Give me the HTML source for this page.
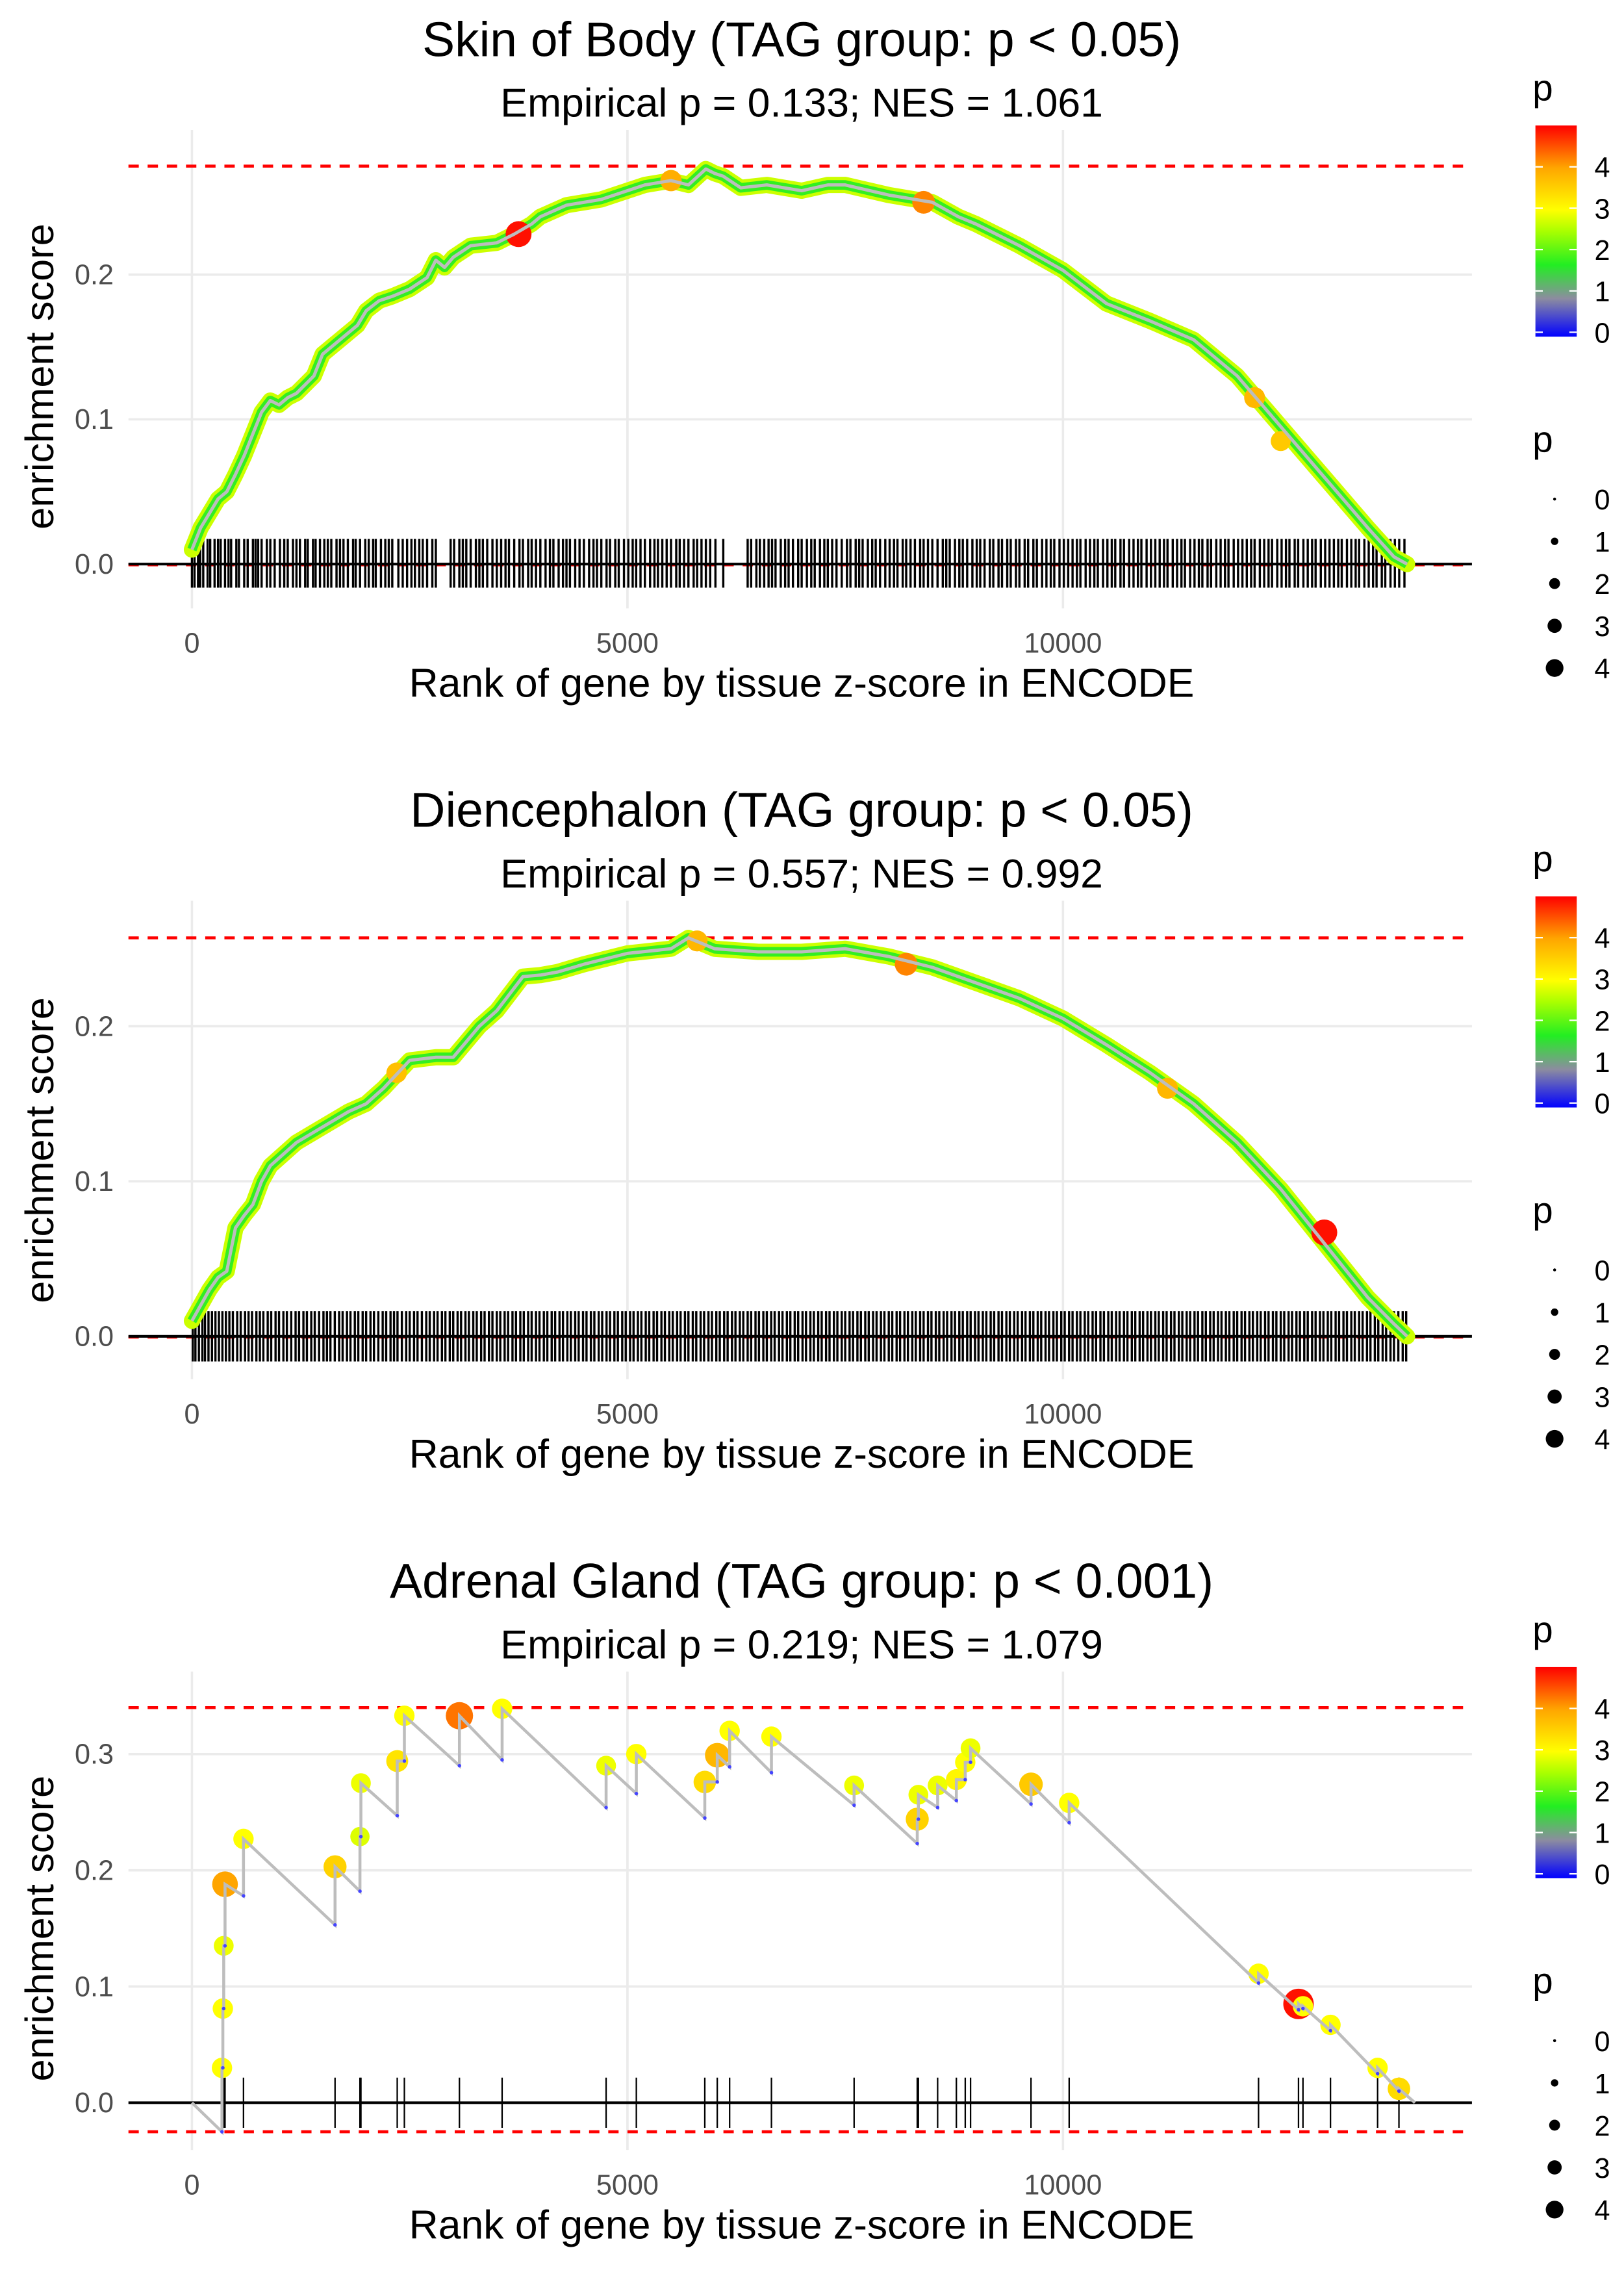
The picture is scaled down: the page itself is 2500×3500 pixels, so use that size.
<!DOCTYPE html>
<html><head><meta charset="utf-8"><style>
html,body{margin:0;padding:0;background:#fff;}
svg{display:block;}
text{font-family:"Liberation Sans",sans-serif;}
</style></head><body>
<svg id="chart" xmlns="http://www.w3.org/2000/svg" width="2500" height="3500" viewBox="0 0 1100 1540">
<defs>
<linearGradient id="pgrad" x1="0" y1="1" x2="0" y2="0">
<stop offset="0" stop-color="#0000ff"/><stop offset="0.18" stop-color="#8c8ca0"/><stop offset="0.34" stop-color="#22ee22"/><stop offset="0.5" stop-color="#aaff00"/><stop offset="0.6" stop-color="#ffff00"/><stop offset="0.8" stop-color="#ffa500"/><stop offset="1" stop-color="#ff0000"/>
</linearGradient>
</defs>
</svg>
<script>
// ---------- DATA ----------
const titles = ["Skin of Body (TAG group: p < 0.05)","Diencephalon (TAG group: p < 0.05)","Adrenal Gland (TAG group: p < 0.001)"];
const subtitles = ["Empirical p = 0.133; NES = 1.061","Empirical p = 0.557; NES = 0.992","Empirical p = 0.219; NES = 1.079"];
const xTicks = [0,5000,10000];
const yTicks1 = [0,0.1,0.2];
const yTicks2 = [0,0.1,0.2];
const yTicks3 = [0,0.1,0.2,0.3];
const yTickLabels1 = ["0.0","0.1","0.2"];
const yTickLabels2 = ["0.0","0.1","0.2"];
const yTickLabels3 = ["0.0","0.1","0.2","0.3"];
const legendTicks = [0,1,2,3,4];

const curve1Rank = [0,100,200,300,400,500,600,700,800,900,1000,1100,1200,1300,1400,1500,1700,1900,2000,2150,2300,2500,2700,2800,2900,3000,3200,3500,3700,3900,4000,4300,4500,4700,5000,5200,5500,5700,5900,6000,6100,6300,6600,7000,7300,7500,8000,8300,8500,8800,9000,9500,10000,10500,11000,11500,12000,12500,13000,13500,13800,13950];
const curve1ES = [0.01,0.025,0.035,0.045,0.05,0.062,0.075,0.09,0.105,0.113,0.11,0.115,0.118,0.124,0.13,0.145,0.155,0.165,0.175,0.182,0.185,0.19,0.198,0.21,0.205,0.212,0.22,0.222,0.228,0.235,0.24,0.248,0.25,0.252,0.258,0.262,0.265,0.262,0.273,0.27,0.268,0.26,0.262,0.258,0.262,0.262,0.255,0.252,0.25,0.24,0.235,0.22,0.203,0.18,0.168,0.155,0.13,0.095,0.06,0.025,0.005,0.0];
const hl1Rank = [3750,5500,8400,12200,12500];
const hl1ES = [0.228,0.265,0.25,0.115,0.085];
const hl1P = [4.9,3.9,4.2,3.8,3.6];

const curve2Rank = [0,100,200,300,400,500,600,700,800,900,1000,1200,1500,1800,2000,2200,2500,2800,3000,3300,3500,3800,4000,4200,4500,5000,5500,5700,6000,6500,7000,7500,8000,8500,9000,9500,10000,10500,11000,11500,12000,12500,13000,13500,13800,13950];
const curve2ES = [0.01,0.02,0.03,0.038,0.042,0.07,0.078,0.085,0.1,0.11,0.115,0.125,0.135,0.145,0.15,0.16,0.178,0.18,0.18,0.2,0.21,0.232,0.233,0.235,0.24,0.247,0.25,0.257,0.25,0.248,0.248,0.25,0.245,0.238,0.228,0.218,0.205,0.188,0.17,0.15,0.125,0.095,0.06,0.025,0.008,0.0];
const hl2Rank = [13000,8200,11200,2350,5800];
const hl2ES = [0.067,0.24,0.16,0.17,0.255];
const hl2P = [4.9,4.2,3.8,3.7,3.8];

const rug1 = [0,30,70,95,130,180,210,260,300,330,380,420,450,510,540,600,640,700,730,760,800,860,900,950,1010,1060,1100,1160,1200,1240,1300,1330,1390,1420,1470,1520,1560,1600,1660,1700,1740,1790,1850,1880,1930,1990,2030,2080,2110,2170,2220,2260,2300,2370,2420,2470,2520,2560,2610,2650,2700,2760,2800,2970,3010,3070,3110,3150,3200,3260,3300,3340,3390,3450,3500,3550,3600,3640,3700,3760,3800,3860,3900,3950,4000,4060,4110,4150,4210,4260,4300,4340,4400,4450,4500,4560,4610,4650,4700,4760,4800,4860,4900,4960,5010,5060,5100,5150,5200,5260,5310,5350,5400,5450,5500,5560,5600,5650,5700,5760,5800,5850,5900,5950,6010,6100,6380,6420,6480,6520,6570,6620,6660,6700,6760,6810,6850,6900,6960,7000,7060,7110,7150,7210,7260,7300,7350,7400,7460,7520,7560,7620,7660,7700,7760,7810,7850,7900,7960,8010,8060,8100,8160,8200,8250,8300,8360,8400,8450,8500,8560,8620,8660,8700,8760,8810,8850,8900,8960,9010,9050,9100,9160,9200,9260,9300,9360,9400,9460,9500,9560,9600,9660,9700,9760,9810,9860,9900,9960,10010,10060,10110,10160,10200,10260,10310,10360,10400,10460,10510,10560,10600,10660,10700,10760,10810,10860,10900,10960,11010,11060,11110,11160,11200,11260,11310,11360,11400,11460,11510,11560,11600,11660,11700,11760,11810,11860,11900,11960,12010,12060,12110,12160,12200,12260,12310,12360,12400,12460,12510,12560,12600,12660,12700,12760,12810,12860,12900,12960,13010,13060,13110,13160,13200,13260,13310,13360,13400,13460,13510,13560,13600,13660,13700,13760,13810,13860,13920];
const rug2 = [10,40,80,120,150,190,230,270,310,350,390,430,470,520,560,610,650,690,740,780,820,870,910,960,1000,1050,1090,1140,1190,1230,1280,1320,1370,1410,1460,1510,1550,1590,1640,1690,1730,1780,1820,1870,1910,1960,2000,2050,2090,2140,2190,2230,2280,2320,2360,2410,2460,2500,2550,2590,2640,2690,2730,2780,2820,2870,2910,2960,3000,3050,3090,3140,3180,3230,3270,3320,3360,3410,3450,3500,3540,3590,3630,3680,3720,3770,3810,3860,3900,3950,3990,4040,4080,4130,4170,4220,4260,4310,4350,4400,4440,4490,4530,4580,4620,4670,4710,4760,4800,4850,4890,4940,4980,5030,5070,5120,5160,5210,5250,5300,5340,5390,5430,5480,5520,5570,5610,5660,5700,5750,5790,5840,5880,5930,5970,6020,6060,6110,6150,6200,6240,6290,6330,6380,6420,6470,6510,6560,6600,6650,6690,6740,6780,6830,6870,6920,6960,7010,7050,7100,7140,7190,7230,7280,7320,7370,7410,7460,7500,7550,7590,7640,7680,7730,7770,7820,7860,7910,7950,8000,8040,8090,8130,8180,8220,8270,8310,8360,8400,8450,8490,8540,8580,8630,8670,8720,8760,8810,8850,8900,8940,8990,9030,9080,9120,9170,9210,9260,9300,9350,9390,9440,9480,9530,9570,9620,9660,9710,9750,9800,9840,9890,9930,9980,10020,10070,10110,10160,10200,10250,10290,10340,10380,10430,10470,10520,10560,10610,10650,10700,10740,10790,10830,10880,10920,10970,11010,11060,11100,11150,11190,11240,11280,11330,11370,11420,11460,11510,11550,11600,11640,11690,11730,11780,11820,11870,11910,11960,12000,12050,12090,12140,12180,12230,12270,12320,12360,12410,12450,12500,12540,12590,12630,12680,12720,12770,12810,12860,12900,12950,12990,13040,13080,13130,13170,13220,13260,13310,13350,13400,13440,13490,13530,13580,13620,13670,13710,13760,13800,13850,13900,13940];

// Adrenal gland hits: rank, ES before step, ES after step, p
const hitRank = [345,355,365,380,592,1643,1929,1940,2357,2439,3071,3561,4755,5102,5888,6031,6173,6653,7602,8327,8340,8561,8776,8878,8939,9633,10071,12245,12704,12755,13071,13612,13857];
const hitLo = [-0.025,0.03,0.081,0.135,0.178,0.153,0.182,0.229,0.247,0.294,0.290,0.295,0.254,0.266,0.245,0.276,0.289,0.284,0.256,0.223,0.244,0.254,0.260,0.278,0.293,0.257,0.241,0.103,0.080,0.081,0.062,0.025,0.010];
const hitHi = [0.030,0.081,0.135,0.188,0.227,0.203,0.229,0.275,0.294,0.333,0.333,0.339,0.290,0.300,0.276,0.299,0.320,0.315,0.273,0.244,0.265,0.273,0.278,0.293,0.305,0.274,0.258,0.111,0.085,0.083,0.067,0.030,0.012];
const hitP = [3.0,3.0,2.9,4.0,3.0,3.5,2.8,2.9,3.3,3.0,4.3,3.0,2.9,3.0,3.4,3.8,3.0,3.0,2.9,3.5,2.9,2.9,3.1,3.0,2.9,3.6,3.0,3.0,4.9,3.0,3.0,3.0,3.4];
const endRank = 14041;

// ---------- HELPERS ----------
const svg = document.getElementById('chart');
const NS = 'http://www.w3.org/2000/svg';
function mk(tag, attrs, parent){const e=document.createElementNS(NS,tag);for(const k in attrs)e.setAttribute(k,attrs[k]);(parent||svg).appendChild(e);return e;}
function txt(s,attrs,parent){const e=mk('text',attrs,parent);e.textContent=s;return e;}
function pColor(p){
  const stops=[[0,[0,0,255]],[0.9,[140,140,160]],[1.7,[34,238,34]],[2.5,[170,255,0]],[3,[255,255,0]],[4,[255,165,0]],[5,[255,0,0]]];
  p=Math.max(0,Math.min(5,p));
  for(let i=0;i<stops.length-1;i++){const a=stops[i],b=stops[i+1];if(p<=b[0]){const t=(p-a[0])/(b[0]-a[0]);const c=a[1].map((v,j)=>Math.round(v+(b[1][j]-v)*t));return `rgb(${c[0]},${c[1]},${c[2]})`;}}
  return 'red';
}
function pRad(p){return 1.5+1.8*p;}

const X0=87, X1=997;
function xScale(r){return 130 + r*0.059;}

function panel(i, cfg){
  const dy = i*522;
  const g = mk('g',{});
  
  
  const yS = v => cfg.y0 + dy - v*cfg.k;
  const t=txt(titles[i],{x:543,y:38+dy,'text-anchor':'middle','font-size':33,fill:'#000'},g);
  
  
  const st=txt(subtitles[i],{x:543,y:79+dy,'text-anchor':'middle','font-size':27.5,fill:'#000'},g);
  
  
  // grid
  cfg.yt.forEach((v,j)=>{
    const l=mk('line',{x1:X0,x2:X1,y1:yS(v),y2:yS(v),stroke:'#ebebeb','stroke-width':1.6},g);
    
    
    const tl=txt(cfg.yl[j],{x:77,y:yS(v)+6.5,'text-anchor':'end','font-size':19,fill:'#4d4d4d'},g);
    
    
  });
  xTicks.forEach(v=>{
    const l=mk('line',{x1:xScale(v),x2:xScale(v),y1:cfg.top+dy,y2:cfg.bot+dy,stroke:'#ebebeb','stroke-width':1.6},g);
    
    
    const tl=txt(String(v),{x:xScale(v),y:442+dy,'text-anchor':'middle','font-size':19,fill:'#4d4d4d'},g);
    
    
  });
  // dashed lines
  const d1=mk('line',{x1:X0,x2:X1,y1:yS(cfg.dTop),y2:yS(cfg.dTop),stroke:'#ff0000','stroke-width':2,'stroke-dasharray':'7,6'},g);
  
  
  const d2=mk('line',{x1:X0,x2:X1,y1:yS(cfg.dBot),y2:yS(cfg.dBot),stroke:'#ff0000','stroke-width':2,'stroke-dasharray':'7,6'},g);
  
  
  // rug
  const rg=mk('g',{},g);
  
  
  cfg.rug.forEach(r=>{
    const l=mk('line',{x1:xScale(r),x2:xScale(r),y1:cfg.rugTop+dy,y2:cfg.rugBot+dy,stroke:'#000','stroke-width':cfg.rugW},rg);
    
    
  });
  // zero line
  const z=mk('line',{x1:X0,x2:X1,y1:yS(0),y2:yS(0),stroke:'#000','stroke-width':1.8},g);
  
  
  cfg.draw(g,yS);
  // axis titles
  const xt=txt('Rank of gene by tissue z-score in ENCODE',{x:543,y:472+dy,'text-anchor':'middle','font-size':27.5,fill:'#000'},g);
  
  
  const yc=cfg.ymid+dy;
  const yt=txt('enrichment score',{x:36,y:yc,'text-anchor':'middle','font-size':27,fill:'#000',transform:`rotate(-90 36 ${yc})`},g);
  
  
  // legends
  const lg=mk('g',{},g);
  
  
  const lt=txt('p',{x:1038,y:68+dy,'font-size':25,fill:'#000'},lg);
  
  
  const bar=mk('rect',{x:1040,y:85+dy,width:28,height:143,fill:'url(#pgrad)'},lg);
  
  
  legendTicks.forEach(v=>{
    const y=225+dy-v*28;
    mk('line',{x1:1040,x2:1045,y1:y,y2:y,stroke:'#fff','stroke-width':1},lg);
    mk('line',{x1:1063,x2:1068,y1:y,y2:y,stroke:'#fff','stroke-width':1},lg);
    const l=txt(String(v),{x:1080,y:y+7,'font-size':19,fill:'#000'},lg);
    
    
  });
  const sg=mk('g',{},g);
  
  
  const sl=txt('p',{x:1038,y:306+dy,'font-size':25,fill:'#000'},sg);
  
  
  legendTicks.forEach((v,j)=>{
    const y=338+dy+j*28.6;
    const c=mk('circle',{cx:1053,cy:y,r:[1,2.5,3.7,4.8,6][j],fill:'#000'},sg);
    
    
    const l=txt(String(v),{x:1080,y:y+7,'font-size':19,fill:'#000'},sg);
    
    
  });
}

function drawCurve(rank, es, hr, he, hp){
  return function(g,yS){
    const pts=rank.map((r,j)=>xScale(r)+','+yS(es[j])).join(' ');
    const a=mk('polyline',{points:pts,fill:'none',stroke:'#ccff00','stroke-width':11,'stroke-linejoin':'round','stroke-linecap':'round'},g);
    
    
    const b=mk('polyline',{points:pts,fill:'none',stroke:'#33ee22','stroke-width':6.5,'stroke-linejoin':'round'},g);
    
    
    hr.forEach((r,j)=>{
      const c=mk('circle',{cx:xScale(r),cy:yS(he[j]),r:pRad(hp[j])*0.85,fill:pColor(hp[j])},g);
      
      
    });
    const l=mk('polyline',{points:pts,fill:'none',stroke:'#bdbdbd','stroke-width':2.2,'stroke-linejoin':'round'},g);
    
    
  };
}

panel(0,{y0:382,k:980,top:88,bot:412,dTop:0.275,dBot:-0.0005,rugTop:365,rugBot:398,rugW:1.5,ymid:255,yt:yTicks1,yl:yTickLabels1,rug:rug1,
  draw:drawCurve(curve1Rank,curve1ES,hl1Rank,hl1ES,hl1P)});
panel(1,{y0:383,k:1050,top:88,bot:412,dTop:0.257,dBot:-0.0005,rugTop:366,rugBot:400,rugW:1.5,ymid:257,yt:yTicks2,yl:yTickLabels2,rug:rug2,
  draw:drawCurve(curve2Rank,curve2ES,hl2Rank,hl2ES,hl2P)});
panel(2,{y0:380,k:787,top:88,bot:412,dTop:0.34,dBot:-0.025,rugTop:363,rugBot:397,rugW:1,ymid:262,yt:yTicks3,yl:yTickLabels3,rug:hitRank,
  draw:function(g,yS){
    let d=`M${xScale(0)},${yS(0)}`;
    hitRank.forEach((r,j)=>{d+=` L${xScale(r)},${yS(hitLo[j])} L${xScale(r)},${yS(hitHi[j])}`;});
    d+=` L${xScale(endRank)},${yS(0)}`;
    hitRank.forEach((r,j)=>{
      const c=mk('circle',{cx:xScale(r),cy:yS(hitHi[j]),r:pRad(hitP[j]),fill:pColor(hitP[j])},g);
      
      
    });
    const p=mk('path',{d:d,fill:'none',stroke:'#bdbdbd','stroke-width':2},g);
    
    
    hitRank.forEach((r,j)=>{
      const lo=mk('circle',{cx:xScale(r),cy:yS(hitLo[j]),r:1.2,fill:'#4444ff'},g);
      
      
    });
  }});
</script>
</body></html>
